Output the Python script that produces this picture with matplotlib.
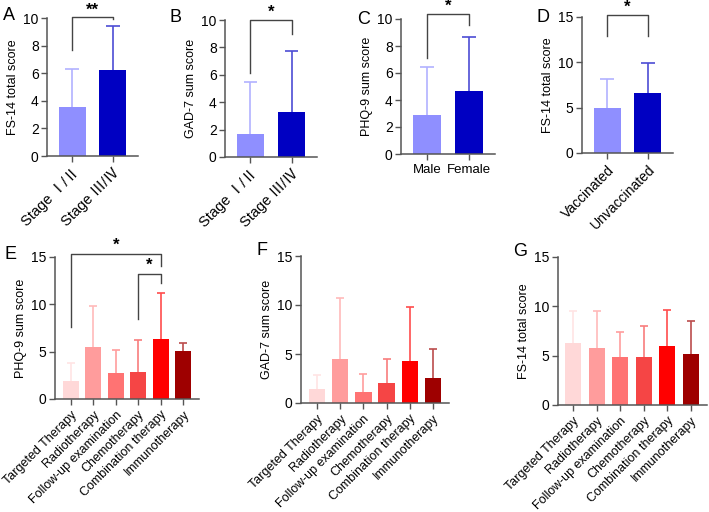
import numpy as np
import matplotlib
matplotlib.use("Agg")
import matplotlib.pyplot as plt
from matplotlib.colors import to_rgb

plt.rcParams['font.family'] = ['Liberation Sans', 'Noto Sans CJK SC', 'DejaVu Sans']

# ---- data ----
stage_labels = ['Stage Ⅰ/Ⅱ', 'Stage Ⅲ/Ⅳ']
a_mean = [3.52, 6.22]
a_sd = [2.75, 3.18]
b_mean = [1.71, 3.29]
b_sd = [3.76, 4.45]
sex_labels = ['Male', 'Female']
c_mean = [2.90, 4.70]
c_sd = [3.58, 3.98]
vacc_labels = ['Vaccinated', 'Unvaccinated']
d_mean = [4.99, 6.65]
d_sd = [3.21, 3.25]
therapy_labels = ['Targeted Therapy', 'Radiotherapy', 'Follow-up examination',
                  'Chemotherapy', 'Combination therapy', 'Immunotherapy']
e_mean = [1.93, 5.52, 2.78, 2.85, 6.29, 5.06]
e_sd = [1.83, 4.35, 2.38, 3.37, 4.91, 0.81]
f_mean = [1.46, 4.48, 1.09, 2.00, 4.31, 2.51]
f_sd = [1.39, 6.21, 1.90, 2.48, 5.46, 2.99]
g_mean = [6.26, 5.82, 4.84, 4.84, 5.95, 5.21]
g_sd = [3.29, 3.70, 2.59, 3.16, 3.70, 3.27]

blue_colors = ['#8F8FFF', '#0000C2']
red_colors = ['#FFD8D8', '#FF9C9C', '#FF7373', '#F54545', '#FF0000', '#9E0000']

W, H = 709, 512
fig = plt.figure(figsize=(W / 100, H / 100), dpi=100)


def lighten(c, amt):
    r, g, b = to_rgb(c)
    return (r + (1 - r) * amt, g + (1 - g) * amt, b + (1 - b) * amt)


def make_ax(l, r, t, b):
    return fig.add_axes([l / W, 1 - b / H, (r - l) / W, (b - t) / H])


def bar_panel(ax, means, sds, colors, labels, ymax, ystep, ylabel, letter,
              rot=45, xlim=(-0.62, 1.62), width=0.66, xfs=9):
    x = np.arange(len(means))
    ax.bar(x, means, width=width, color=colors, zorder=2)
    # one-sided SD bars (upper only), like GraphPad
    for i in range(len(means)):
        ec = lighten(colors[i], 0.3)
        top = means[i] + sds[i]
        ax.vlines(x[i], means[i], top, color=ec, lw=1.2, zorder=3)
        ax.hlines(top, x[i] - width * 0.25, x[i] + width * 0.25, color=ec, lw=1.2, zorder=3)
    ax.set_xlim(*xlim)
    ax.set_ylim(0, ymax)
    ax.set_yticks(np.arange(0, ymax + 0.01, ystep))
    ax.set_xticks(x)
    if rot:
        ax.set_xticklabels(labels, rotation=rot, ha='right', rotation_mode='anchor', fontsize=xfs)
    else:
        ax.set_xticklabels(labels, fontsize=xfs)
    ax.tick_params(axis='y', labelsize=10, length=4, color='#555555', width=1, pad=2)
    ax.tick_params(axis='x', length=4, color='#555555', width=1, pad=3)
    for s in ['top', 'right']:
        ax.spines[s].set_visible(False)
    for s in ['left', 'bottom']:
        ax.spines[s].set_color('#555555')
        ax.spines[s].set_linewidth(1.1)
    ax.set_ylabel(ylabel, fontsize=9, labelpad=3)
    ax.text(-0.62, 1.0, letter, transform=ax.transAxes, fontsize=13,
            ha='left', va='center')


def bracket(ax, x1, x2, ytop, y1, y2, star, sx=None, sy=None):
    ax.plot([x1, x1, x2, x2], [y1, ytop, ytop, y2], color='#444444',
            lw=1, clip_on=False, zorder=4)
    if sx is None:
        sx = (x1 + x2) / 2
    ax.text(sx, sy, star, ha='center', va='bottom', fontsize=12,
            fontweight='bold', clip_on=False)


axA = make_ax(47, 138, 18, 156)
bar_panel(axA, a_mean, a_sd, blue_colors, stage_labels, 10, 2, 'FS-14 total score', 'A',
          xfs=10.5)
axA.texts[-1].set_position((-0.48, 1.02))
bracket(axA, 0, 1, 10.1, 7.7, 9.9, '**', sy=10.05)

axB = make_ax(225, 317, 20, 157)
bar_panel(axB, b_mean, b_sd, blue_colors, stage_labels, 10, 2, 'GAD-7 sum score', 'B',
          xfs=10.5)
axB.texts[-1].set_position((-0.6, 1.02))
bracket(axB, 0, 1, 10.0, 6.1, 9.0, '*', sy=10.05)

axC = make_ax(401, 495, 19, 154)
bar_panel(axC, c_mean, c_sd, blue_colors, sex_labels, 10, 2, 'PHQ-9 sum score', 'C',
          rot=0, xfs=9.5)
axC.texts[-1].set_position((-0.47, 1.0))
bracket(axC, 0, 1, 10.37, 7.1, 9.56, '*', sy=10.4)

axD = make_ax(582, 673, 17, 153)
bar_panel(axD, d_mean, d_sd, blue_colors, vacc_labels, 15, 5, 'FS-14 total score', 'D',
          xfs=10)
axD.texts[-1].set_position((-0.5, 1.0))
bracket(axD, 0, 1, 15.2, 12.9, 12.9, '*', sy=15.25)

axE = make_ax(55, 199, 257, 399)
bar_panel(axE, e_mean, e_sd, red_colors, therapy_labels, 15, 5, 'PHQ-9 sum score', 'E',
          xlim=(-0.7, 5.7), width=0.7)
axE.texts[-1].set_position((-0.35, 1.02))
bracket(axE, 0, 4, 15.3, 7.6, 14.1, '*', sy=15.45)
bracket(axE, 3, 4, 13.2, 8.5, 12.3, '*', sx=3.5, sy=13.3)

axF = make_ax(301, 449, 256, 403)
bar_panel(axF, f_mean, f_sd, red_colors, therapy_labels, 15, 5, 'GAD-7 sum score', 'F',
          xlim=(-0.7, 5.7), width=0.7)
axF.texts[-1].set_position((-0.3, 1.04))

axG = make_ax(558, 707, 257, 405)
bar_panel(axG, g_mean, g_sd, red_colors, therapy_labels, 15, 5, 'FS-14 total score', 'G',
          xlim=(-0.65, 5.7), width=0.68)
axG.texts[-1].set_position((-0.3, 1.04))

fig.savefig('out.png', dpi=100, facecolor='white')
